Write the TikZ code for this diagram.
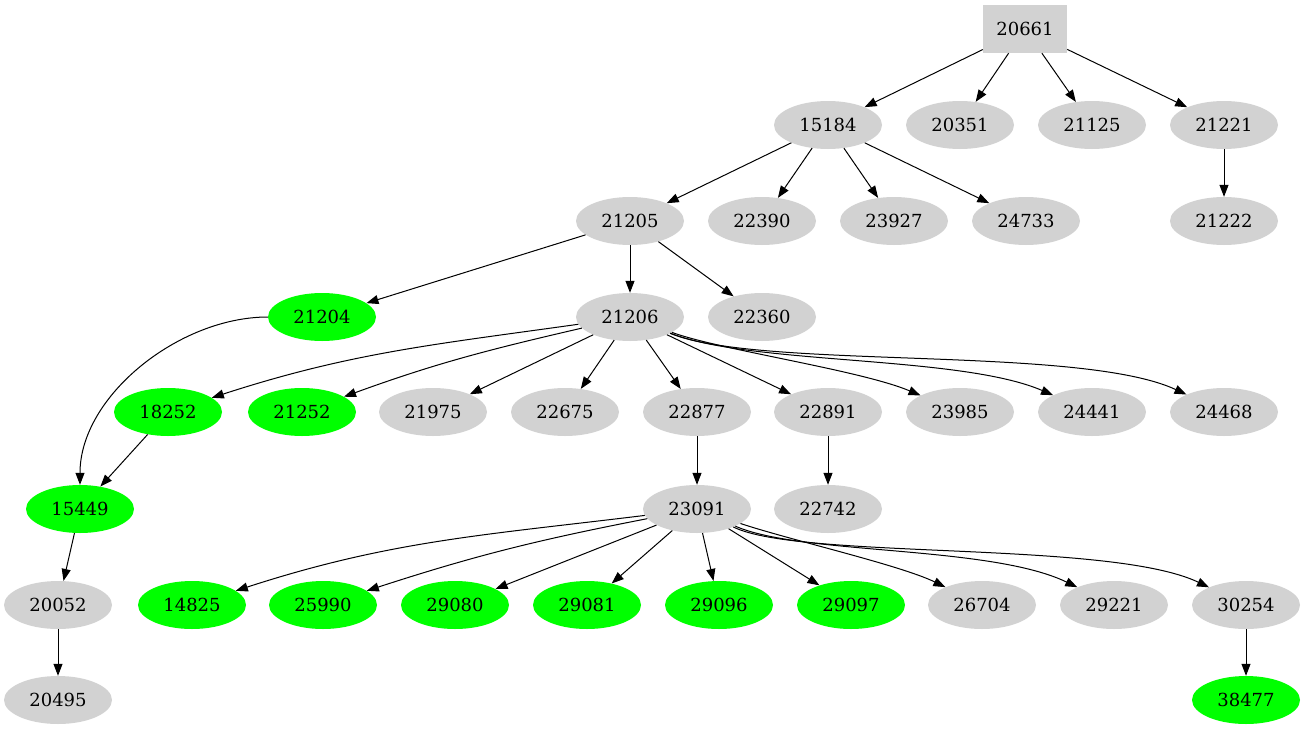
\documentclass[tikz,border=0pt]{standalone}
\usepackage{fontspec}
\setmainfont{DejaVu Serif}
\usetikzlibrary{arrows.meta,shapes.geometric}
\begin{document}
\begin{tikzpicture}[x=1pt,y=-1pt,
  nd/.style={ellipse,fill=gray!35,minimum width=108pt,minimum height=48pt,inner sep=0pt,font=\fontsize{18}{20}\selectfont},
  gn/.style={nd,fill=green},
  bx/.style={rectangle,fill=gray!35,minimum width=84pt,minimum height=48pt,font=\fontsize{18}{20}\selectfont},
  ar/.style={-{Triangle[length=12pt,width=9pt]},line width=1pt}]
\useasboundingbox (0,0) rectangle (1306,731);
\node[bx] (a) at (1025,29) {20661};
\node[nd] (b1) at (828,125) {15184};
\node[nd] (b2) at (960,125) {20351};
\node[nd] (b3) at (1092,125) {21125};
\node[nd] (b4) at (1224,125) {21221};
\node[nd] (c1) at (630,221) {21205};
\node[nd] (c2) at (762,221) {22390};
\node[nd] (c3) at (894,221) {23927};
\node[nd] (c4) at (1026,221) {24733};
\node[nd] (c5) at (1224,221) {21222};
\node[gn] (d1) at (322,317) {21204};
\node[nd] (d2) at (630,317) {21206};
\node[nd] (d3) at (762,317) {22360};
\node[gn] (e1) at (168,412) {18252};
\node[gn] (e2) at (302,412) {21252};
\node[nd] (e3) at (433,412) {21975};
\node[nd] (e4) at (565,412) {22675};
\node[nd] (e5) at (697,412) {22877};
\node[nd] (e6) at (828,412) {22891};
\node[nd] (e7) at (960,412) {23985};
\node[nd] (e8) at (1092,412) {24441};
\node[nd] (e9) at (1224,412) {24468};
\node[gn] (f1) at (80,509) {15449};
\node[nd] (f2) at (697,509) {23091};
\node[nd] (f3) at (828,509) {22742};
\node[nd] (g0) at (58,605) {20052};
\node[gn] (g1) at (192,605) {14825};
\node[gn] (g2) at (323,605) {25990};
\node[gn] (g3) at (455,605) {29080};
\node[gn] (g4) at (587,605) {29081};
\node[gn] (g5) at (719,605) {29096};
\node[gn] (g6) at (851,605) {29097};
\node[nd] (g7) at (982,605) {26704};
\node[nd] (g8) at (1114,605) {29221};
\node[nd] (g9) at (1246,605) {30254};
\node[nd] (h0) at (58,700) {20495};
\node[gn] (h1) at (1246,700) {38477};
\foreach \s/\t in {a/b1,a/b2,a/b3,a/b4,b4/c5,b1/c1,b1/c2,b1/c3,b1/c4,c1/d1,c1/d2,c1/d3,
  d2/e3,d2/e4,d2/e5,d2/e6,e5/f2,e6/f3,e1/f1,f1/g0,g0/h0,g9/h1,
  f2/g3,f2/g4,f2/g5,f2/g6}
  \draw[ar] (\s) -- (\t);
\draw[ar] (d1) to[out=180,in=90,looseness=0.9] (f1);
\draw[ar] (d2) to[out=188,in=18] (e1);
\draw[ar] (d2) to[out=193,in=20] (e2);
\draw[ar] (d2) .. controls (720,350) and (860,370) .. (e7);
\draw[ar] (d2) .. controls (750,365) and (960,355) .. (e8);
\draw[ar] (d2) .. controls (760,370) and (1080,345) .. (e9);
\draw[ar] (f2) to[out=187,in=18] (g1);
\draw[ar] (f2) to[out=191,in=18] (g2);
\draw[ar] (f2) .. controls (790,540) and (900,565) .. (g7);
\draw[ar] (f2) .. controls (800,555) and (990,545) .. (g8);
\draw[ar] (f2) .. controls (800,560) and (1110,540) .. (g9);
\end{tikzpicture}
\end{document}
